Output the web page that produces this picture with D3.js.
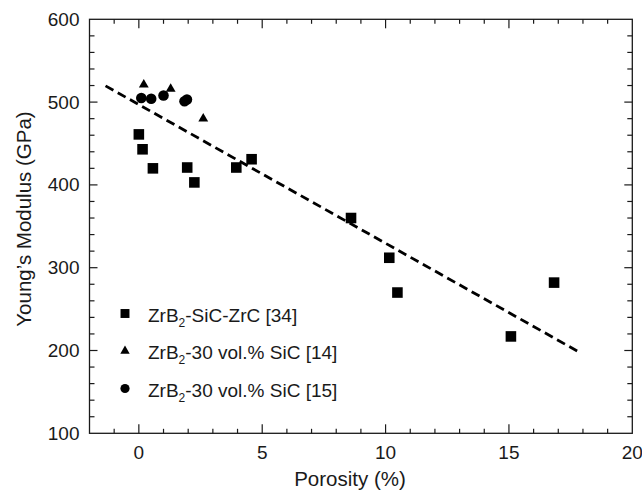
<!DOCTYPE html>
<html>
<head>
<meta charset="utf-8">
<script src="https://cdn.jsdelivr.net/npm/d3@7"></script>
<style>
  body { margin: 0; background: #fff; }
  svg { display: block; font-family: "Liberation Sans", Arial, sans-serif; }
</style>
</head>
<body>
<svg id="chart" width="642" height="492"></svg>
<script>
// ZrB2-SiC-ZrC [34]
let sqPorosity = [0.0, 0.15, 0.57, 1.96, 2.25, 3.95, 4.57, 8.6, 10.15, 10.48, 15.08, 16.83];
let sqModulus  = [461, 443, 420, 421, 403, 421, 431, 360, 312, 270, 217, 282];
// ZrB2-30 vol.% SiC [14]
let triPorosity = [0.2, 1.29, 2.61];
let triModulus  = [521, 516, 480];
// ZrB2-30 vol.% SiC [15]
let cirPorosity = [0.1, 0.5, 1.0, 1.85, 1.95];
let cirModulus  = [505, 504, 508, 501, 503];
// dashed fit line ends
let fitPorosity = [-1.35, 17.85];
let fitModulus  = [519.6, 198.0];

let xTicks = [0, 5, 10, 15, 20];
let yTicks = [100, 200, 300, 400, 500, 600];

let legendItems = [
    {shape: "square", pre: "ZrB", sub: "2", post: "-SiC-ZrC [34]"},
    {shape: "triangle", pre: "ZrB", sub: "2", post: "-30 vol.% SiC [14]"},
    {shape: "circle", pre: "ZrB", sub: "2", post: "-30 vol.% SiC [15]"}
];

let svg = d3.select("#chart");
let plotL = 89.5, plotR = 632.3, plotT = 19.3, plotB = 433.3;
let ink = "#1a1a1a";

let x = d3.scaleLinear().domain([-2, 20]).range([plotL, plotR]);
let y = d3.scaleLinear().domain([100, 600]).range([plotB, plotT]);

// frame
svg.append("rect")
    .attr("x", plotL).attr("y", plotT)
    .attr("width", plotR - plotL).attr("height", plotB - plotT)
    .attr("fill", "none").attr("stroke", ink).attr("stroke-width", 1.3);

// ticks, all pointing inward, on all four sides
let xMinor = d3.range(-1, 20, 1);
let yMinor = d3.range(120, 600, 20);
let tickG = svg.append("g").attr("stroke", ink).attr("stroke-width", 1.2);

xMinor.forEach(v => {
    let len = v % 5 === 0 ? 9 : 4.5;
    tickG.append("line").attr("x1", x(v)).attr("x2", x(v)).attr("y1", plotB).attr("y2", plotB - len);
    tickG.append("line").attr("x1", x(v)).attr("x2", x(v)).attr("y1", plotT).attr("y2", plotT + len);
});
yMinor.forEach(v => {
    let len = v % 100 === 0 ? 8 : 5;
    tickG.append("line").attr("x1", plotL).attr("x2", plotL + len).attr("y1", y(v)).attr("y2", y(v));
    tickG.append("line").attr("x1", plotR).attr("x2", plotR - len).attr("y1", y(v)).attr("y2", y(v));
});

// tick labels
svg.append("g").selectAll("text").data(xTicks).join("text")
    .attr("x", d => x(d)).attr("y", 459)
    .attr("text-anchor", "middle").attr("font-size", 19).attr("fill", ink)
    .text(d => d);

svg.append("g").selectAll("text").data(yTicks).join("text")
    .attr("x", 79.5).attr("y", d => y(d) + 6.5)
    .attr("text-anchor", "end").attr("font-size", 19).attr("fill", ink)
    .text(d => d);

// axis titles
svg.append("text")
    .attr("x", 350).attr("y", 486)
    .attr("text-anchor", "middle").attr("font-size", 20.5).attr("fill", ink)
    .text("Porosity (%)");

svg.append("text")
    .attr("transform", "translate(31,219) rotate(-90)")
    .attr("text-anchor", "middle").attr("font-size", 20.5).attr("fill", ink)
    .text("Young\u2019s Modulus (GPa)");

// fit line
let fitData = fitPorosity.map((p, i) => [p, fitModulus[i]]);
svg.append("path")
    .datum(fitData)
    .attr("d", d3.line().x(d => x(d[0])).y(d => y(d[1])))
    .attr("fill", "none").attr("stroke", "#000")
    .attr("stroke-width", 2.8).attr("stroke-dasharray", "9,5");

// markers
let symbolFor = {
    square: d3.symbolSquare,
    triangle: d3.symbolTriangle,
    circle: d3.symbolCircle
};

function drawSeries(px, py, shape, size) {
    let pts = px.map((p, i) => [p, py[i]]);
    svg.append("g").selectAll("path").data(pts).join("path")
        .attr("transform", d => `translate(${x(d[0])},${y(d[1])})`)
        .attr("d", d3.symbol().type(symbolFor[shape]).size(size))
        .attr("fill", "#000");
}

drawSeries(cirPorosity, cirModulus, "circle", 88);
drawSeries(triPorosity, triModulus, "triangle", 42);
drawSeries(sqPorosity, sqModulus, "square", 112);

// legend
let legend = svg.append("g");
legendItems.forEach((item, i) => {
    let ly = 313.5 + i * 37.5;
    let size = item.shape === "square" ? 80 : item.shape === "triangle" ? 38 : 66;
    legend.append("path")
        .attr("transform", `translate(125,${ly})`)
        .attr("d", d3.symbol().type(symbolFor[item.shape]).size(size))
        .attr("fill", "#000");
    let t = legend.append("text")
        .attr("x", 148).attr("y", ly + 8)
        .attr("font-size", 19).attr("fill", ink);
    t.append("tspan").text(item.pre);
    t.append("tspan").attr("font-size", 12).attr("dy", 5).text(item.sub);
    t.append("tspan").attr("dy", -5).text(item.post);
});
</script>
</body>
</html>
